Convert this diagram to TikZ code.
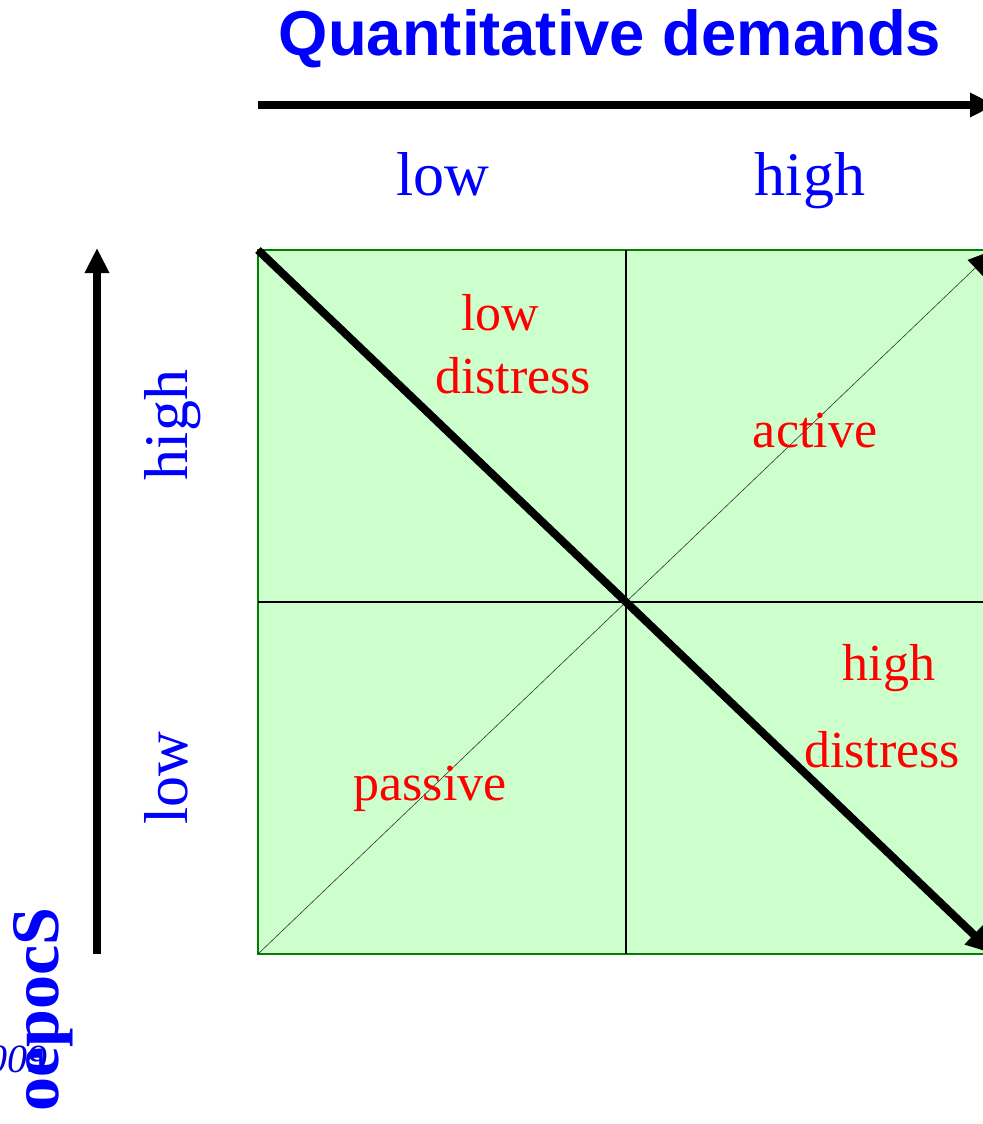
\documentclass[tikz,border=0pt]{standalone}
\usepackage{fontspec}
\setmainfont{Liberation Serif}
\newfontfamily\titlefont{Liberation Sans}
\usetikzlibrary{positioning, arrows.meta}
\definecolor{cellgreen}{RGB}{204,255,204}
\definecolor{framegreen}{RGB}{0,128,0}

\begin{document}
\begin{tikzpicture}[
            x = 0.5pt, y = -0.5pt,
            every node/.style = {inner sep = 0pt},
            axislabel/.style = {
                text = blue,
                font = \fontsize{31}{36}\selectfont
            },
            quadlabel/.style = {
                text = red,
                font = \fontsize{26}{31}\selectfont
            },
            axisarrow/.style = {
                line width = 3.75pt,
                -{Triangle[length = 12.5pt, width = 11.5pt]}
            },
            gridline/.style = {line width = 0.7pt}
        ]
            \useasboundingbox (0,0) rectangle (983,1124);
            \clip (0,0) rectangle (983,1124);

            % the four cells
            \coordinate (tl) at (258,250);
            \coordinate (br) at (994,954);
            \coordinate (mid) at (626,602);
            \coordinate (bl) at (tl |- br);
            \coordinate (tr) at (br |- tl);
            \filldraw[fill = cellgreen, draw = framegreen, line width = 1pt] (tl) rectangle (br);
            \draw[gridline] (tl -| mid) -- (br -| mid);
            \draw[gridline] (tl |- mid) -- (br |- mid);

            % diagonals
            \draw[line width = 0.3pt, draw = black!80,
                -{Triangle[length = 13pt, width = 11pt, color = black]}] (bl) -- (tr);
            \draw[line width = 4pt,
                -{Triangle[length = 14pt, width = 12.5pt]}] (tl) -- (br);

            % axes
            \coordinate (qstart) at (258,105);
            \coordinate (qend) at (995,105);
            \coordinate (sstart) at (97,954);
            \coordinate (send) at (97,248);
            \draw[axisarrow] (qstart) -- (qend);
            \draw[axisarrow] (sstart) -- (send);

            \node[anchor = base, text = blue,
                font = \titlefont\bfseries\fontsize{31.7}{38}\selectfont] (title) at (610,55) {Quantitative demands};
            \node[axislabel, anchor = base] (qlow) at (443,195) {low};
            \node[axislabel, anchor = base] (qhigh) at (810,195) {high};
            \node[axislabel, anchor = base, rotate = 90] (shigh) at (187,425) {high};
            \node[axislabel, anchor = base, rotate = 90] (slow) at (187,778) {low};

            % cell labels
            \node[quadlabel, anchor = base] (lowdistA) at (500,330) {low};
            \node[quadlabel, anchor = base] (lowdistB) at (513,393) {distress};
            \node[quadlabel, anchor = base] (active) at (815,447) {active};
            \node[quadlabel, anchor = base] (highdistA) at (889,680) {high};
            \node[quadlabel, anchor = base] (highdistB) at (882,767) {distress};
            \node[quadlabel, anchor = base] (passive) at (430,800) {passive};

            % cut off texts at the bottom left
            \node[anchor = base east, text = blue!85!black,
                font = \itshape\fontsize{20}{24}\selectfont] (year) at (48,1072) {2009};
            \node[anchor = base west, rotate = 90, text = blue,
                font = \bfseries\fontsize{34}{40}\selectfont] (scope) at (58,1112) {oepocS};
        \end{tikzpicture}
\end{document}
